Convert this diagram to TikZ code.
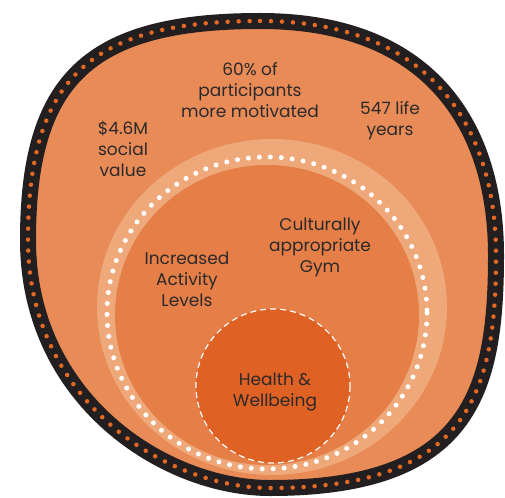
\documentclass[tikz,border=0pt]{standalone}
\usepackage{fontspec}
\setmainfont{Poppins}
\usepackage{xcolor}
\definecolor{ring-black}{RGB}{35,31,32}
\definecolor{ring-dot}{RGB}{226,104,36}
\definecolor{outer-orange}{RGB}{233,139,87}
\definecolor{band-orange}{RGB}{238,168,122}
\definecolor{mid-orange}{RGB}{229,126,71}
\definecolor{core-orange}{RGB}{223,98,36}
\definecolor{label-gray}{RGB}{43,41,42}
\tikzset{
  lbl/.style={font=\fontsize{17}{21}\selectfont, text=label-gray, align=center, inner sep=0pt},
}

\begin{document}
\begin{tikzpicture}[x=1pt, y=-1pt]
  \useasboundingbox (0,0) rectangle (505,497);

  % outer ring
  \def\outerblob{(260,21) .. controls (436,21) and (496,133) .. (496,255)
    .. controls (496,392) and (470,488) .. (270,488)
    .. controls (165,488) and (28,400) .. (28,240)
    .. controls (28,79) and (89,21) .. (260,21) -- cycle}
  \fill[outer-orange] \outerblob;
  \draw[ring-black, line width=16pt] \outerblob;
  \draw[ring-dot, line width=4.5pt, line cap=round, dash pattern=on 0pt off 11pt] \outerblob;

  % light band and inner area
  \fill[band-orange] (272,307) ellipse [x radius=175, y radius=168];
  \fill[mid-orange] (267,315) ellipse [x radius=152, y radius=150];
  \draw[white, line width=5pt, line cap=round, dash pattern=on 0pt off 11pt] (267,313) ellipse [x radius=160, y radius=156];

  % core
  \fill[core-orange] (273,386) circle [radius=77];
  \draw[white, line width=1.2pt, dash pattern=on 6pt off 4pt] (273,386) circle [radius=77];

  % labels
  \node[lbl] (motiv) at (250,90) {60\% of\\participants\\more motivated};
  \node[lbl] (value) at (123,149) {\$4.6M\\social\\value};
  \node[lbl] (life) at (390,121) {547 life\\years};
  \node[lbl] (gym) at (320,247) {Culturally\\appropriate\\Gym};
  \node[lbl] (activity) at (187,279) {Increased\\Activity\\Levels};
  \node[lbl] (health) at (275,392) {Health \&\\Wellbeing};
\end{tikzpicture}
\end{document}
